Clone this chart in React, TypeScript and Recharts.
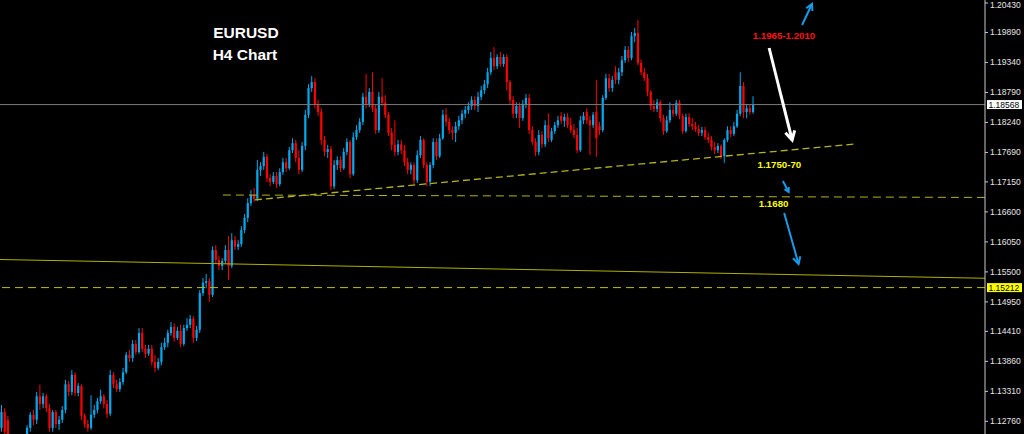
import React from "react";
import { ComposedChart, Bar, XAxis, YAxis, ReferenceLine, ReferenceDot } from "recharts";

// [open, high, low, close]
type Ohlc = [number, number, number, number];

const climbFromLows: Ohlc[] = [
  [1.1264, 1.1306, 1.1257, 1.1293], [1.1293, 1.13, 1.1242, 1.1257], [1.1278, 1.1286, 1.1231, 1.1242],
  [1.1242, 1.1249, 1.122, 1.1227], [1.1227, 1.1234, 1.1209, 1.122], [1.122, 1.1238, 1.1212, 1.1231],
  [1.1231, 1.1242, 1.1216, 1.1224], [1.1224, 1.1249, 1.122, 1.1242], [1.1242, 1.1269, 1.1234, 1.1264],
  [1.1264, 1.1293, 1.1257, 1.1288], [1.1288, 1.1297, 1.1269, 1.1279], [1.1279, 1.133, 1.1271, 1.1322],
  [1.1322, 1.1343, 1.1297, 1.1308], [1.1308, 1.1328, 1.13, 1.1322], [1.1322, 1.1326, 1.1293, 1.13],
  [1.13, 1.1308, 1.1257, 1.1264], [1.1264, 1.1297, 1.1257, 1.1293], [1.1293, 1.1297, 1.1264, 1.1271],
  [1.1271, 1.1286, 1.126, 1.1279], [1.1279, 1.1304, 1.1273, 1.1297], [1.1297, 1.1352, 1.1291, 1.1344],
  [1.1344, 1.135, 1.1322, 1.133], [1.133, 1.137, 1.1324, 1.1361], [1.1361, 1.1366, 1.1322, 1.1328],
  [1.1328, 1.1346, 1.1322, 1.1341], [1.1341, 1.1344, 1.1279, 1.1286], [1.1286, 1.1291, 1.1264, 1.1271],
  [1.1271, 1.1279, 1.1257, 1.1264], [1.1264, 1.1324, 1.126, 1.1288], [1.1288, 1.1306, 1.1282, 1.1297],
  [1.1297, 1.1319, 1.1291, 1.1313], [1.1313, 1.1334, 1.1308, 1.1322], [1.1322, 1.1326, 1.13, 1.1308],
  [1.1308, 1.1315, 1.1282, 1.129], [1.129, 1.137, 1.1286, 1.1361], [1.1361, 1.1366, 1.1337, 1.1344],
  [1.1344, 1.1352, 1.133, 1.1335], [1.1335, 1.1355, 1.133, 1.1348], [1.1348, 1.1374, 1.1343, 1.1366],
  [1.1366, 1.1403, 1.1363, 1.1398], [1.1398, 1.1407, 1.1385, 1.1392],
];

const baseBuilding: Ohlc[] = [
  [1.1392, 1.1425, 1.1385, 1.1418], [1.1418, 1.1425, 1.1398, 1.1403], [1.1403, 1.1447, 1.14, 1.1438],
  [1.1438, 1.1447, 1.1403, 1.1409], [1.1409, 1.1416, 1.1392, 1.14], [1.14, 1.1416, 1.1396, 1.1409],
  [1.1409, 1.1416, 1.1378, 1.1385], [1.1385, 1.1398, 1.1366, 1.1374], [1.1374, 1.1392, 1.137, 1.1385],
  [1.1385, 1.142, 1.1379, 1.1412], [1.1412, 1.1429, 1.1407, 1.142], [1.142, 1.1444, 1.1412, 1.1438],
  [1.1438, 1.1458, 1.1433, 1.1449], [1.1449, 1.1456, 1.1422, 1.1429], [1.1429, 1.1449, 1.1425, 1.1442],
  [1.1442, 1.1453, 1.1412, 1.1418], [1.1418, 1.1453, 1.1414, 1.1447], [1.1447, 1.1465, 1.1442, 1.1453],
  [1.1453, 1.1471, 1.1447, 1.1464], [1.1464, 1.1469, 1.142, 1.1429], [1.1429, 1.1451, 1.1423, 1.1444],
  [1.1444, 1.1517, 1.1438, 1.1511],
];

const breakout: Ohlc[] = [
  [1.1511, 1.1539, 1.1506, 1.153], [1.153, 1.1546, 1.152, 1.1533], [1.1533, 1.1539, 1.1495, 1.1508],
  [1.1508, 1.1597, 1.1504, 1.159], [1.159, 1.1599, 1.1566, 1.1572], [1.1572, 1.1579, 1.1553, 1.1561],
  [1.1561, 1.1575, 1.1553, 1.157], [1.157, 1.1599, 1.1564, 1.159], [1.159, 1.1616, 1.1535, 1.1561],
  [1.1561, 1.1621, 1.1557, 1.1608], [1.1608, 1.1616, 1.159, 1.1596], [1.1596, 1.1608, 1.159, 1.1601],
  [1.1601, 1.1634, 1.1596, 1.1627], [1.1627, 1.1656, 1.1621, 1.1649], [1.1649, 1.1685, 1.1641, 1.1676],
  [1.1676, 1.17, 1.1671, 1.1691], [1.1691, 1.1704, 1.1678, 1.1684], [1.1684, 1.1755, 1.168, 1.1737],
  [1.1737, 1.1751, 1.1726, 1.1744],
];

const firstPeak: Ohlc[] = [
  [1.1744, 1.177, 1.1737, 1.1761], [1.1761, 1.1766, 1.1715, 1.1722], [1.1722, 1.1729, 1.1707, 1.1715],
  [1.1715, 1.1733, 1.1711, 1.1726], [1.1726, 1.1733, 1.1704, 1.1711], [1.1711, 1.174, 1.1707, 1.1733],
  [1.1733, 1.1759, 1.1728, 1.1751], [1.1751, 1.1759, 1.1733, 1.174], [1.174, 1.1779, 1.1737, 1.1773],
  [1.1773, 1.1795, 1.1768, 1.1786], [1.1786, 1.1792, 1.1751, 1.1759], [1.1759, 1.1773, 1.1729, 1.1737],
  [1.1737, 1.1788, 1.1733, 1.1781], [1.1781, 1.1847, 1.1773, 1.1838], [1.1838, 1.1894, 1.1832, 1.1887],
  [1.1887, 1.1909, 1.188, 1.1898], [1.1898, 1.1905, 1.185, 1.1858], [1.1858, 1.1865, 1.1836, 1.1843],
  [1.1843, 1.185, 1.1783, 1.1792], [1.1792, 1.1799, 1.1762, 1.177], [1.177, 1.1783, 1.1759, 1.1775],
  [1.1775, 1.1781, 1.17, 1.1707],
];

const augustRange: Ohlc[] = [
  [1.1707, 1.1755, 1.1702, 1.1746], [1.1746, 1.1762, 1.1737, 1.1755], [1.1755, 1.1762, 1.1733, 1.174],
  [1.174, 1.1777, 1.1737, 1.177], [1.177, 1.1795, 1.1764, 1.1788], [1.1788, 1.1792, 1.1722, 1.1729],
  [1.1729, 1.1806, 1.1726, 1.1797], [1.1797, 1.1819, 1.1792, 1.181], [1.181, 1.1832, 1.1805, 1.1825],
  [1.1825, 1.1878, 1.1819, 1.1871], [1.1871, 1.1913, 1.185, 1.1858], [1.1858, 1.1887, 1.1852, 1.188],
  [1.188, 1.1916, 1.1843, 1.185], [1.185, 1.1856, 1.1803, 1.181], [1.181, 1.188, 1.1805, 1.1871],
  [1.1871, 1.1905, 1.1854, 1.186], [1.186, 1.1874, 1.1832, 1.1838], [1.1838, 1.1843, 1.1799, 1.1805],
  [1.1805, 1.1814, 1.1773, 1.1783], [1.1783, 1.1828, 1.1762, 1.177], [1.177, 1.1792, 1.1764, 1.1784],
  [1.1784, 1.1792, 1.1766, 1.1773], [1.1773, 1.1783, 1.1744, 1.1751], [1.1751, 1.1759, 1.1729, 1.1737],
  [1.1737, 1.1751, 1.1729, 1.1746], [1.1746, 1.1751, 1.1711, 1.1718], [1.1718, 1.1773, 1.1713, 1.1764],
  [1.1764, 1.1799, 1.1759, 1.1792], [1.1792, 1.1795, 1.174, 1.1746], [1.1746, 1.1751, 1.1707, 1.1715],
  [1.1715, 1.1751, 1.1707, 1.1746], [1.1746, 1.1795, 1.174, 1.1788], [1.1788, 1.1795, 1.1755, 1.1762],
  [1.1762, 1.1803, 1.1759, 1.1795], [1.1795, 1.1847, 1.1792, 1.1838],
];

const secondPeak: Ohlc[] = [
  [1.1838, 1.185, 1.1817, 1.1825], [1.1825, 1.1832, 1.1803, 1.181], [1.181, 1.1817, 1.1792, 1.1805],
  [1.1805, 1.1825, 1.1788, 1.1817], [1.1817, 1.1836, 1.181, 1.1828], [1.1828, 1.1847, 1.1821, 1.184],
  [1.184, 1.1854, 1.1832, 1.1847], [1.1847, 1.1861, 1.184, 1.1854], [1.1854, 1.1872, 1.1847, 1.1865],
  [1.1865, 1.1872, 1.1847, 1.1854], [1.1854, 1.188, 1.1843, 1.1871], [1.1871, 1.1891, 1.1865, 1.1883],
  [1.1883, 1.1902, 1.1876, 1.1894], [1.1894, 1.1924, 1.1887, 1.1916], [1.1916, 1.1953, 1.1911, 1.1942],
  [1.1942, 1.1962, 1.192, 1.1927], [1.1927, 1.1949, 1.1922, 1.1944], [1.1944, 1.1953, 1.1926, 1.1931],
  [1.1931, 1.1949, 1.1926, 1.1944], [1.1944, 1.1949, 1.1883, 1.1898], [1.1898, 1.1902, 1.1858, 1.1865],
  [1.1865, 1.1872, 1.1832, 1.184], [1.184, 1.1861, 1.1832, 1.1854], [1.1854, 1.1861, 1.1814, 1.1832],
  [1.1832, 1.1865, 1.1827, 1.1858], [1.1858, 1.1876, 1.185, 1.1869], [1.1869, 1.1876, 1.1803, 1.181],
];

const thirdPeak: Ohlc[] = [
  [1.181, 1.1817, 1.1783, 1.1788], [1.1788, 1.1795, 1.1762, 1.177], [1.177, 1.181, 1.1764, 1.1801],
  [1.1801, 1.1808, 1.1777, 1.1784], [1.1784, 1.1828, 1.1779, 1.1819], [1.1819, 1.1841, 1.1788, 1.1795],
  [1.1792, 1.1814, 1.1788, 1.1808], [1.1808, 1.1825, 1.1803, 1.1819], [1.1819, 1.1836, 1.1814, 1.1828],
  [1.1836, 1.1843, 1.1821, 1.1827], [1.1827, 1.184, 1.1816, 1.1834], [1.1834, 1.1841, 1.1814, 1.1819],
  [1.1819, 1.1832, 1.1805, 1.181], [1.181, 1.1821, 1.1795, 1.1801], [1.1801, 1.1814, 1.1768, 1.1773],
  [1.1773, 1.1836, 1.177, 1.1828], [1.1828, 1.1843, 1.1821, 1.1836], [1.1843, 1.185, 1.1821, 1.1828],
  [1.1828, 1.1836, 1.1764, 1.1819], [1.1819, 1.1843, 1.1814, 1.1838], [1.1843, 1.1902, 1.1761, 1.1795],
  [1.1817, 1.1825, 1.1801, 1.181], [1.181, 1.1874, 1.1806, 1.1869], [1.1869, 1.1913, 1.1865, 1.1905],
  [1.1905, 1.1913, 1.188, 1.1887], [1.1887, 1.1909, 1.188, 1.1902], [1.1916, 1.1927, 1.1894, 1.1902],
  [1.1902, 1.1924, 1.1894, 1.1916], [1.1916, 1.1946, 1.1909, 1.1938], [1.1938, 1.1964, 1.1933, 1.1957],
  [1.1957, 1.1964, 1.1935, 1.1942], [1.1942, 1.199, 1.1938, 1.1982], [1.1982, 1.1997, 1.1971, 1.1988],
  [1.1988, 1.2012, 1.1929, 1.1933],
];

const pullback: Ohlc[] = [
  [1.1933, 1.1939, 1.1911, 1.1916], [1.1916, 1.1924, 1.19, 1.1905], [1.1905, 1.1913, 1.1872, 1.188],
  [1.188, 1.1883, 1.1847, 1.1854], [1.1854, 1.1865, 1.1843, 1.1849], [1.1849, 1.1867, 1.1843, 1.1861],
  [1.1861, 1.1865, 1.1825, 1.1832], [1.1832, 1.1838, 1.1801, 1.1808], [1.1808, 1.1836, 1.1805, 1.1828],
  [1.1828, 1.1861, 1.1823, 1.1847], [1.1847, 1.1858, 1.1834, 1.184], [1.184, 1.1865, 1.1836, 1.186],
  [1.186, 1.1865, 1.183, 1.1836], [1.1836, 1.184, 1.1803, 1.1808], [1.1808, 1.184, 1.1805, 1.1834],
  [1.1834, 1.1841, 1.1816, 1.1821], [1.1821, 1.1832, 1.181, 1.1817], [1.1817, 1.1825, 1.1807, 1.1812],
  [1.1812, 1.1819, 1.1799, 1.1805], [1.1805, 1.1816, 1.1799, 1.181], [1.181, 1.1816, 1.1792, 1.1797],
  [1.1797, 1.1805, 1.1786, 1.1792], [1.1792, 1.1799, 1.1773, 1.1779], [1.1779, 1.1788, 1.1766, 1.1773],
  [1.1773, 1.1786, 1.1768, 1.1781], [1.1781, 1.1784, 1.1757, 1.1762], [1.1762, 1.1795, 1.175, 1.1792],
  [1.1792, 1.1817, 1.1788, 1.181], [1.181, 1.1817, 1.1797, 1.1803], [1.1803, 1.1825, 1.1799, 1.1817],
  [1.1817, 1.1847, 1.1814, 1.184], [1.184, 1.1916, 1.1836, 1.1891], [1.1891, 1.1898, 1.1832, 1.1843],
  [1.1843, 1.1858, 1.1832, 1.185], [1.185, 1.1856, 1.1838, 1.1843], [1.1843, 1.1872, 1.184, 1.18568],
];

const priceTicks = [
  1.2043, 1.1989, 1.1934, 1.1879, 1.1824, 1.1769, 1.1715, 1.166,
  1.1605, 1.155, 1.1495, 1.1441, 1.1386, 1.1331, 1.1276,
];

const bidPrice = 1.18568;
const supportPrice = 1.15212;
const totalSlots = 308; // bars plus the empty chart shift on the right
const leftEdge = -0.5;
const rightEdge = totalSlots - 0.5;

const risingTrend = [{ x: 79.2, y: 1.1682 }, { x: 266.8, y: 1.17845 }];
const level1680 = [{ x: 69.2, y: 1.1691 }, { x: 307.5, y: 1.16865 }];
const longTrend = [{ x: -0.5, y: 1.15727 }, { x: 307.5, y: 1.15383 }];

const upTarget = [{ x: 250.3, y: 1.20027 }, { x: 253.4, y: 1.20412 }];
const downMove = [{ x: 240.0, y: 1.19605 }, { x: 247.2, y: 1.17918 }];
const smallDrop = [{ x: 244.3, y: 1.17167 }, { x: 246.1, y: 1.16965 }];
const deeperDrop = [{ x: 244.7, y: 1.1658 }, { x: 249.2, y: 1.15645 }];

const BULL = "#00a9ee";
const BEAR = "#ff0000";
const ARROW_BLUE = "#1a9be6";
const LINE_YELLOW = "#b4b41e";
const FONT = "'Liberation Sans', Arial, sans-serif";

const candles = [
  ...climbFromLows, ...baseBuilding, ...breakout, ...firstPeak,
  ...augustRange, ...secondPeak, ...thirdPeak, ...pullback,
].map((c, i) => ({ i, open: c[0], high: c[1], low: c[2], close: c[3], range: [c[2], c[1]] }));

const Candle = (props: any) => {
  const { x, y, width, height, payload } = props;
  if (!payload) return null;
  const { open, close, high, low } = payload;
  const top = Math.min(y, y + height);
  const h = Math.abs(height);
  const k = h / (high - low);
  const cx = x + width / 2;
  const color = close >= open ? BULL : BEAR;
  const bodyTop = top + (high - Math.max(open, close)) * k;
  const bodyH = Math.max(1, Math.abs(open - close) * k);
  return (
    <g>
      <line x1={cx} x2={cx} y1={top} y2={top + h} stroke={color} strokeWidth={1} />
      <rect x={cx - 1.1} y={bodyTop} width={2.2} height={bodyH} fill={color} />
    </g>
  );
};

const arrowShape = (color: string, w: number, head: number) => (p: any) => {
  const { x1, y1, x2, y2 } = p;
  const ang = Math.atan2(y2 - y1, x2 - x1);
  const a1 = ang + Math.PI - 0.5;
  const a2 = ang + Math.PI + 0.5;
  const pts = `${x2 + head * Math.cos(a1)},${y2 + head * Math.sin(a1)} ${x2},${y2} ${x2 + head * Math.cos(a2)},${y2 + head * Math.sin(a2)}`;
  return (
    <g>
      <line x1={x1} y1={y1} x2={x2} y2={y2} stroke={color} strokeWidth={w} />
      <polyline points={pts} fill="none" stroke={color} strokeWidth={w} />
    </g>
  );
};

const PriceTick = (props: any) => {
  const { x, y, payload } = props;
  return (
    <text x={x} y={Math.max(y, 5)} dy="0.35em" textAnchor="start" fill="#e6e6e6" fontSize={8.5} fontFamily={FONT}>
      {payload.value.toFixed(5)}
    </text>
  );
};

// price box sitting on the right axis at the level's height
const priceTag = (value: number, fill: string) => (p: any) => (
  <g>
    <rect x={p.cx + 2} y={p.cy - 4.5} width={35} height={9} fill={fill} />
    <text x={p.cx + 3.5} y={p.cy} dy="0.35em" fill="#000" fontSize={8.5} fontFamily={FONT}>
      {value.toFixed(5)}
    </text>
  </g>
);

const note = (text: string, color: string, size: number) => (p: any) => (
  <text x={p.cx} y={p.cy} textAnchor="middle" dominantBaseline="central" fill={color}
    fontSize={size} fontWeight="bold" fontFamily={FONT}>
    {text}
  </text>
);

export default function App() {
  return (
    <div style={{ position: "absolute", left: 0, top: 0, width: 1024, height: 434, background: "#000" }}>
      <ComposedChart width={1024} height={434} data={candles} margin={{ top: 0, right: 0, bottom: 0, left: 0 }}>
        <XAxis dataKey="i" type="number" domain={[leftEdge, rightEdge]} hide allowDataOverflow />
        <YAxis
          orientation="right"
          width={39}
          domain={[1.12528, 1.20485]}
          ticks={priceTicks}
          interval={0}
          allowDataOverflow
          axisLine={{ stroke: "#c8c8c8" }}
          tickLine={{ stroke: "#c8c8c8" }}
          tickSize={3}
          tickMargin={2}
          tick={<PriceTick />}
        />
        <ReferenceLine segment={longTrend} stroke="#b0b000" strokeWidth={1} />
        <ReferenceLine y={supportPrice} stroke="#c0c000" strokeDasharray="8 5" />
        <ReferenceLine segment={level1680} stroke={LINE_YELLOW} strokeDasharray="8 5" />
        <ReferenceLine segment={risingTrend} stroke={LINE_YELLOW} strokeWidth={1.3} strokeDasharray="7 4" />
        <ReferenceLine y={bidPrice} stroke="#787878" />
        <Bar dataKey="range" barSize={3} shape={<Candle />} isAnimationActive={false} />
        <ReferenceLine segment={upTarget} shape={arrowShape(ARROW_BLUE, 2, 7)} />
        <ReferenceLine segment={downMove} shape={arrowShape("#ffffff", 3, 10)} />
        <ReferenceLine segment={smallDrop} shape={arrowShape(ARROW_BLUE, 2, 5)} />
        <ReferenceLine segment={deeperDrop} shape={arrowShape(ARROW_BLUE, 2, 8)} />
        <ReferenceDot x={rightEdge} y={bidPrice} r={0} shape={priceTag(bidPrice, "#ffffff")} />
        <ReferenceDot x={rightEdge} y={supportPrice} r={0} shape={priceTag(supportPrice, "#ffff00")} />
        <ReferenceDot x={76.4} y={1.19889} r={0} shape={note("EURUSD", "#ffffff", 15.5)} />
        <ReferenceDot x={76.1} y={1.19477} r={0} shape={note("H4 Chart", "#ffffff", 15.5)} />
        <ReferenceDot x={244.65} y={1.19834} r={0} shape={note("1.1965-1.2010", "#ff1010", 9.7)} />
        <ReferenceDot x={243.2} y={1.17478} r={0} shape={note("1.1750-70", "#ffff00", 9.7)} />
        <ReferenceDot x={241.4} y={1.16745} r={0} shape={note("1.1680", "#ffff00", 9.7)} />
      </ComposedChart>
    </div>
  );
}
